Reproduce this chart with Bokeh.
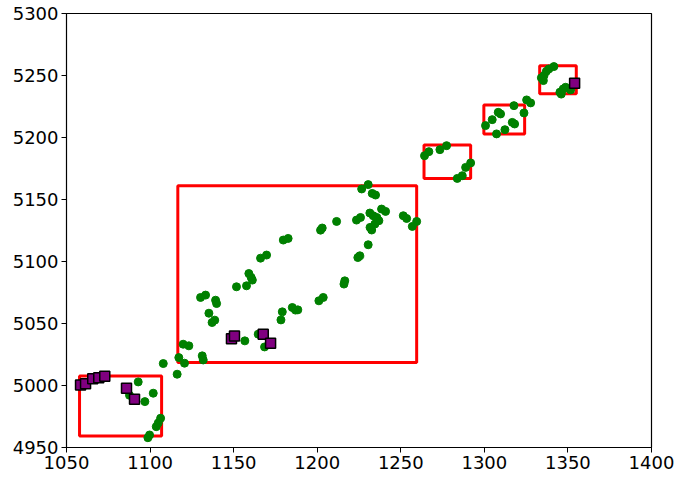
from bokeh.plotting import figure
from bokeh.models import Range1d, FixedTicker
from bokeh.embed import file_html
from bokeh.resources import INLINE

green_x = [1092.9, 1087.7, 1096.9, 1101.9, 1106.3, 1104.9, 1103.7, 1099.7, 1098.7,
           1107.9, 1116.2, 1117.2, 1120.6, 1119.8, 1123.2, 1131.2, 1131.8, 1135.2, 1137.1,
           1138.7, 1130.2, 1133.2, 1139.2, 1139.8, 1151.7, 1157.7, 1159.1, 1160.5, 1161.2,
           1156.7, 1164.7, 1168.5, 1179.1, 1178.3, 1185.1, 1187.0, 1188.4, 1166.1, 1169.7,
           1179.7, 1182.6, 1201.0, 1203.6, 1216.0, 1216.5, 1202.0, 1203.0, 1211.6, 1224.3,
           1225.5, 1230.5, 1223.5, 1225.9, 1226.6, 1230.5, 1232.9, 1234.9, 1231.5, 1233.5,
           1235.7, 1236.9, 1231.6, 1232.6, 1234.5, 1238.5, 1240.9, 1251.5, 1253.5, 1259.5,
           1256.9,
           1264.2, 1266.8, 1273.4, 1277.4, 1291.8, 1288.8, 1286.8, 1283.8,
           1300.7, 1304.7, 1308.3, 1309.7, 1307.3, 1312.3, 1316.7, 1318.1, 1317.7, 1323.7,
           1325.3, 1327.7,
           1334.1, 1335.7, 1337.1, 1338.6, 1341.6, 1335.3, 1345.2, 1347.2, 1348.6, 1351.6,
           1346.0]
green_y = [5002.9, 4992.1, 4987.0, 4993.8, 4973.6, 4969.8, 4966.8, 4960.1, 4957.9,
           5017.7, 5009.1, 5022.5, 5018.0, 5033.3, 5032.0, 5023.9, 5020.6, 5058.3, 5050.8,
           5052.7, 5071.0, 5072.9, 5068.8, 5066.1, 5079.6, 5080.4, 5090.3, 5087.1, 5085.0,
           5036.0, 5041.4, 5031.1, 5059.4, 5052.9, 5062.9, 5060.8, 5061.0, 5102.7, 5105.2,
           5117.3, 5118.6, 5068.3, 5071.0, 5081.8, 5084.4, 5125.3, 5127.0, 5132.3, 5103.2,
           5104.6, 5113.5, 5133.4, 5135.5, 5158.5, 5162.0, 5154.9, 5153.6, 5139.1, 5136.9,
           5135.5, 5132.9, 5127.5, 5125.4, 5130.2, 5142.3, 5140.4, 5136.9, 5134.7, 5132.3,
           5128.3,
           5185.3, 5188.6, 5190.2, 5193.4, 5179.5, 5175.9, 5169.2, 5167.0,
           5209.6, 5214.4, 5220.3, 5219.0, 5202.9, 5206.3, 5212.2, 5210.9, 5225.7, 5219.8,
           5230.3, 5227.9,
           5248.1, 5250.0, 5253.4, 5255.3, 5257.2, 5245.9, 5236.5, 5239.2, 5240.5, 5238.4,
           5235.0]

purple_x = [1058.4, 1061.4, 1065.7, 1069.3, 1072.9, 1085.9, 1090.7, 1148.7, 1150.5,
            1167.7, 1172.1, 1354.0]
purple_y = [5000.5, 5001.5, 5005.5, 5006.3, 5007.5, 4997.8, 4988.9, 5037.8, 5040.0,
            5041.4, 5034.1, 5243.7]

rect_left = [1057.8, 1116.6, 1263.9, 1299.7, 1333.1]
rect_right = [1106.9, 1259.5, 1291.8, 1324.1, 1355.0]
rect_bottom = [4959.3, 5018.5, 5167.0, 5202.9, 5235.2]
rect_top = [5007.7, 5161.1, 5194.0, 5226.3, 5257.8]

x_ticks = [1050, 1100, 1150, 1200, 1250, 1300, 1350, 1400]
y_ticks = [4950, 5000, 5050, 5100, 5150, 5200, 5250, 5300]

p = figure(width=676, height=479, frame_width=585, frame_height=434,
           output_backend="svg", toolbar_location=None,
           x_range=Range1d(1050, 1400), y_range=Range1d(4950, 5300),
           min_border_left=66, min_border_right=25, min_border_top=13, min_border_bottom=32)
p.grid.visible = False
p.outline_line_color = "black"
p.outline_line_alpha = 1
p.outline_line_width = 1.2
p.background_fill_color = "white"
p.border_fill_color = "white"

for ax, ticks in ((p.xaxis, x_ticks), (p.yaxis, y_ticks)):
    ax.ticker = FixedTicker(ticks=ticks)
    ax.minor_tick_line_color = None
    ax.major_tick_out = 5
    ax.major_tick_in = 0
    ax.major_label_text_font = "DejaVu Sans"
    ax.major_label_text_font_size = "18px"
    ax.major_label_text_color = "black"
    ax.axis_line_color = "black"
    ax.major_tick_line_color = "black"
    ax.major_label_standoff = 3

p.quad(left=rect_left, right=rect_right, bottom=rect_bottom, top=rect_top,
       fill_alpha=0, line_color="red", line_width=3)
p.scatter(green_x, green_y, marker="circle", size=8, color="green")
p.scatter(purple_x, purple_y, marker="square", size=10, fill_color="purple",
          line_color="black", line_width=1.5)

open("out.html", "w").write(file_html(p, INLINE))
